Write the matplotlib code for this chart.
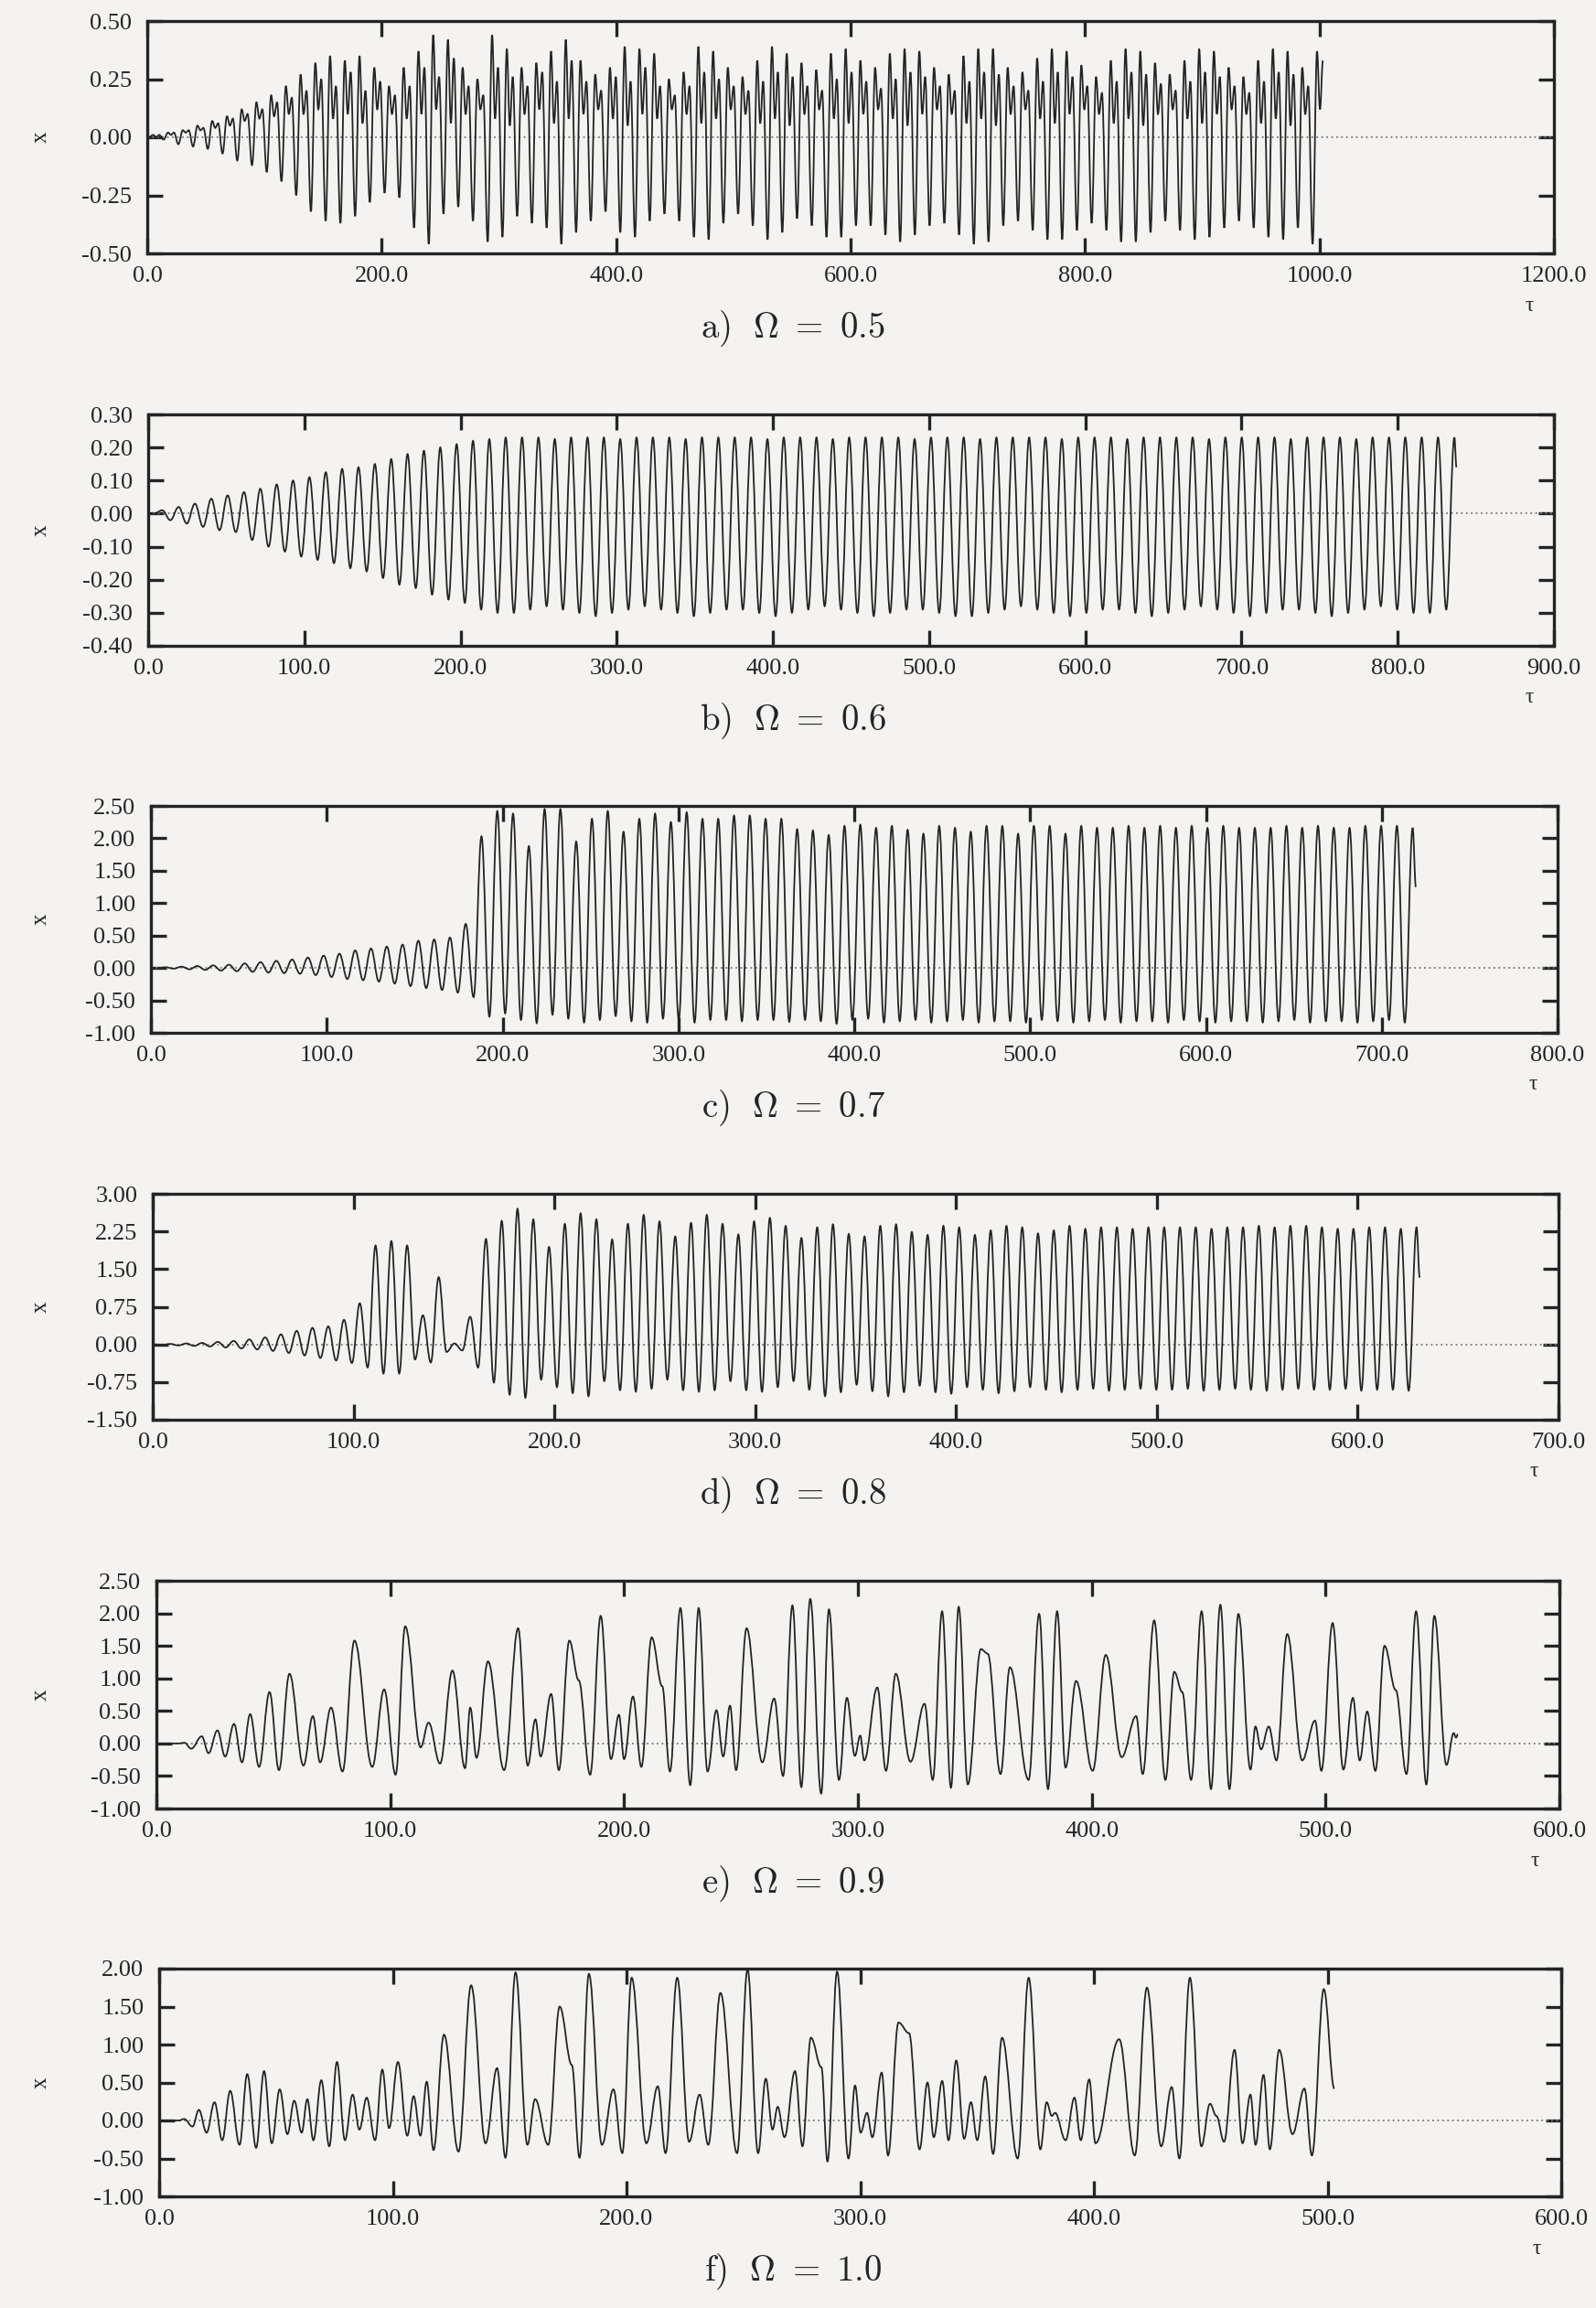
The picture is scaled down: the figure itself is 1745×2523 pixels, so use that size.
import numpy as np
import matplotlib
matplotlib.use("Agg")
import matplotlib.pyplot as plt
from matplotlib.path import Path
from matplotlib.patches import PathPatch
from matplotlib.ticker import FormatStrFormatter, MultipleLocator

plt.rcParams["font.family"] = ["Liberation Serif", "DejaVu Serif"]
plt.rcParams["mathtext.fontset"] = "cm"

# ---------------------------------------------------------------------------
# a) Omega = 0.5 -- per forcing period: trough, main peak, dip, second peak
a_omega = 0.5
a_start = 1.4
a_trough = [0.00, -0.01, -0.03, -0.04, -0.05, -0.07, -0.10, -0.12, -0.15, -0.19,
            -0.25, -0.32, -0.36, -0.37, -0.34, -0.28, -0.24, -0.26, -0.39, -0.46,
            -0.33, -0.30, -0.36, -0.45, -0.43, -0.34, -0.37, -0.39, -0.46, -0.41,
            -0.36, -0.32, -0.41, -0.43, -0.36, -0.33, -0.36, -0.43, -0.44, -0.37,
            -0.33, -0.38, -0.44, -0.41, -0.35, -0.38, -0.43, -0.43, -0.38, -0.38,
            -0.42, -0.45, -0.42, -0.38, -0.37, -0.42, -0.46, -0.45, -0.38, -0.36,
            -0.40, -0.44, -0.44, -0.40, -0.37, -0.40, -0.45, -0.45, -0.41, -0.36,
            -0.40, -0.44, -0.43, -0.39, -0.36, -0.39, -0.43, -0.44, -0.39, -0.46]
a_peak = [0.01, 0.02, 0.03, 0.05, 0.07, 0.09, 0.12, 0.15, 0.18, 0.22,
          0.27, 0.32, 0.35, 0.33, 0.35, 0.30, 0.22, 0.30, 0.37, 0.44,
          0.42, 0.30, 0.25, 0.44, 0.38, 0.30, 0.32, 0.37, 0.42, 0.33,
          0.27, 0.30, 0.39, 0.38, 0.36, 0.25, 0.28, 0.39, 0.37, 0.30,
          0.26, 0.33, 0.39, 0.36, 0.32, 0.29, 0.36, 0.38, 0.33, 0.30,
          0.36, 0.38, 0.37, 0.30, 0.27, 0.35, 0.38, 0.38, 0.30, 0.28,
          0.34, 0.38, 0.37, 0.31, 0.26, 0.33, 0.38, 0.37, 0.32, 0.27,
          0.33, 0.38, 0.37, 0.30, 0.26, 0.33, 0.38, 0.37, 0.30, 0.37]
a_dip = [0.00, 0.01, 0.02, 0.03, 0.04, 0.05, 0.07, 0.08, 0.09, 0.10,
         0.10, 0.12, 0.08, 0.10, 0.06, 0.12, 0.10, 0.08, 0.10, 0.12,
         0.06, 0.10, 0.12, 0.08, 0.05, 0.10, 0.12, 0.06, 0.08, 0.10,
         0.12, 0.08, 0.05, 0.10, 0.08, 0.12, 0.10, 0.06, 0.08, 0.12,
         0.10, 0.06, 0.08, 0.05, 0.10, 0.12, 0.08, 0.06, 0.10, 0.12,
         0.08, 0.05, 0.10, 0.12, 0.10, 0.06, 0.08, 0.05, 0.10, 0.12,
         0.08, 0.06, 0.10, 0.12, 0.10, 0.06, 0.08, 0.05, 0.10, 0.12,
         0.08, 0.06, 0.10, 0.12, 0.10, 0.06, 0.08, 0.05, 0.10, 0.12]
a_peak2 = [0.01, 0.02, 0.03, 0.04, 0.06, 0.08, 0.10, 0.12, 0.15, 0.17,
           0.20, 0.25, 0.22, 0.28, 0.20, 0.24, 0.18, 0.22, 0.30, 0.26,
           0.34, 0.22, 0.18, 0.30, 0.26, 0.22, 0.28, 0.24, 0.33, 0.24,
           0.20, 0.26, 0.24, 0.30, 0.22, 0.18, 0.22, 0.28, 0.25, 0.22,
           0.20, 0.24, 0.28, 0.26, 0.22, 0.20, 0.25, 0.28, 0.24, 0.21,
           0.25, 0.28, 0.26, 0.22, 0.20, 0.24, 0.28, 0.27, 0.22, 0.20,
           0.24, 0.28, 0.26, 0.22, 0.19, 0.24, 0.28, 0.27, 0.23, 0.20,
           0.24, 0.28, 0.26, 0.22, 0.19, 0.24, 0.28, 0.27, 0.22, 0.33]

# b) Omega = 0.6 -- trough, peak per period
b_omega = 0.6
b_start = 3.76
b_trough = [0.00,
            -0.02, -0.03, -0.04, -0.05, -0.056, -0.08, -0.10, -0.115, -0.13, -0.14,
            -0.15, -0.165, -0.175, -0.195, -0.215, -0.225, -0.245, -0.26, -0.27, -0.29,
            -0.30,
            -0.30, -0.29, -0.28, -0.29, -0.30, -0.31, -0.30, -0.29, -0.28, -0.29,
            -0.30, -0.31, -0.30, -0.29, -0.29, -0.30, -0.31, -0.30, -0.29, -0.28,
            -0.29, -0.30, -0.31, -0.30, -0.29, -0.29, -0.30, -0.31, -0.31, -0.30,
            -0.29, -0.28, -0.29, -0.30, -0.31, -0.30, -0.29, -0.29, -0.30, -0.31,
            -0.30, -0.29, -0.28, -0.29, -0.30, -0.31, -0.30, -0.29, -0.29, -0.30,
            -0.31, -0.30, -0.29, -0.28, -0.29, -0.30, -0.30, -0.29]
b_peak = [0.01, 0.02, 0.03, 0.045, 0.055, 0.065, 0.075, 0.088, 0.10, 0.11,
          0.125, 0.135, 0.14, 0.15, 0.165, 0.18, 0.19, 0.20, 0.21, 0.22,
          0.225, 0.23,
          0.23, 0.23, 0.225, 0.23, 0.23, 0.23, 0.225, 0.23, 0.23, 0.23,
          0.225, 0.23, 0.23, 0.23, 0.23, 0.225, 0.23, 0.23, 0.23, 0.225,
          0.23, 0.23, 0.23, 0.23, 0.225, 0.23, 0.23, 0.23, 0.225, 0.23,
          0.23, 0.23, 0.23, 0.225, 0.23, 0.23, 0.23, 0.225, 0.23, 0.23,
          0.23, 0.23, 0.225, 0.23, 0.23, 0.23, 0.23, 0.225, 0.23, 0.23,
          0.23, 0.225, 0.23, 0.23, 0.23, 0.23, 0.23, 0.23]
b_tail = (837.6, 0.14)

# c) Omega = 0.7
c_omega = 0.7
c_start = 4.0
c_trough = [0.00,
            -0.01, -0.02, -0.03, -0.04, -0.05, -0.06, -0.07, -0.08, -0.09, -0.11,
            -0.14, -0.17, -0.19, -0.21, -0.24, -0.28, -0.31, -0.34, -0.38,
            -0.45,
            -0.75, -0.70, -0.80, -0.85, -0.72, -0.78, -0.84, -0.80, -0.74, -0.82,
            -0.84, -0.78, -0.80, -0.84, -0.80, -0.80, -0.82, -0.80, -0.80, -0.83,
            -0.80, -0.82, -0.86, -0.80, -0.78, -0.84, -0.82, -0.80, -0.84, -0.82,
            -0.80, -0.84, -0.82, -0.82, -0.84, -0.80, -0.82, -0.84, -0.82, -0.80,
            -0.84, -0.82, -0.82, -0.84, -0.80, -0.82, -0.84, -0.82, -0.82, -0.84,
            -0.82, -0.80, -0.84, -0.82, -0.82, -0.84, -0.82, -0.80, -0.84]
c_peak = [0.01, 0.02, 0.03, 0.04, 0.05, 0.07, 0.09, 0.11, 0.13, 0.16,
          0.19, 0.22, 0.27, 0.30, 0.33, 0.36, 0.42, 0.44, 0.47, 0.68,
          2.03, 2.42, 2.38, 1.88, 2.45, 2.45, 1.95, 2.30, 2.42, 2.10,
          2.30, 2.38, 2.25, 2.40, 2.30, 2.30, 2.35, 2.35, 2.30, 2.30,
          2.14, 2.12, 2.05, 2.19, 2.21, 2.16, 2.19, 2.13, 2.07, 2.19,
          2.16, 2.10, 2.19, 2.19, 2.07, 2.19, 2.19, 2.07, 2.19, 2.16,
          2.16, 2.19, 2.16, 2.19, 2.16, 2.19, 2.16, 2.19, 2.16, 2.16,
          2.16, 2.19, 2.16, 2.19, 2.16, 2.16, 2.19, 2.19, 2.19, 2.16]
c_tail = (719.4, 1.25)

# d) Omega = 0.8 -- peak first, then trough
d_omega = 0.8
d_start = 1.0
d_peak = [0.00, 0.01, 0.02, 0.03, 0.05, 0.07, 0.10, 0.14, 0.20, 0.27,
          0.33, 0.36, 0.49, 0.82,
          1.97, 2.06, 1.97, 0.58, 1.34, 0.02, 0.55,
          2.10, 2.46, 2.70, 2.49, 1.94, 2.40, 2.61, 2.49, 2.09, 2.40,
          2.58, 2.45, 2.15, 2.42, 2.58, 2.40, 2.19, 2.45, 2.52, 2.36, 2.12,
          2.33, 2.39, 2.20, 2.15, 2.36, 2.39, 2.24, 2.18, 2.36, 2.33,
          2.18, 2.27, 2.36, 2.33, 2.21, 2.27, 2.36, 2.30, 2.33, 2.33,
          2.30, 2.33, 2.33, 2.33, 2.33, 2.30, 2.33, 2.33, 2.36, 2.33,
          2.36, 2.36, 2.33, 2.30, 2.30, 2.33, 2.33, 2.30, 2.33]
d_trough = [-0.01, -0.02, -0.03, -0.04, -0.06, -0.08, -0.10, -0.13, -0.17, -0.22,
            -0.27, -0.32, -0.37, -0.46,
            -0.58, -0.58, -0.30, -0.36, -0.15, -0.12, -0.46,
            -0.76, -1.00, -1.06, -0.70, -0.85, -0.97, -1.03, -0.73, -0.91, -0.94,
            -0.88, -0.70, -0.91, -0.94, -0.91, -0.73, -0.91, -0.94, -0.85, -0.73, -0.90,
            -1.03, -0.95, -0.80, -0.93, -1.03, -0.95, -0.82, -0.95, -0.98, -0.85,
            -0.90, -0.97, -0.93, -0.85, -0.90, -0.95, -0.90, -0.88, -0.92, -0.90,
            -0.88, -0.90, -0.90, -0.88, -0.92, -0.90, -0.88, -0.90, -0.92, -0.90,
            -0.88, -0.90, -0.90, -0.88, -0.92, -0.90, -0.90, -0.92]
d_tail = (630.9, 1.33)

# e) Omega = 0.9 -- turning points (tau, x)
e_points = [
    (0.0, 0.0), (9.4, 0.0), (12.0, 0.01), (14.9, -0.08), (19.4, 0.11), (22.3, -0.15),
    (26.1, 0.20), (29.4, -0.20), (33.2, 0.30), (36.6, -0.29), (40.1, 0.45), (43.9, -0.36),
    (48.4, 0.79), (52.4, -0.41), (56.9, 1.07), (62.9, -0.34), (66.9, 0.42), (70.0, -0.29),
    (74.7, 0.55), (79.6, -0.43), (84.7, 1.58), (92.3, -0.36), (97.4, 0.83), (102.3, -0.48),
    (106.4, 1.80), (113.0, -0.06), (116.4, 0.32), (121.3, -0.31), (126.6, 1.12),
    (132.0, -0.38), (134.2, 0.55), (136.9, -0.22), (141.8, 1.26), (148.7, -0.41),
    (154.7, 1.77), (158.8, -0.34), (162.1, 0.37), (164.3, -0.20), (168.8, 0.76),
    (172.1, -0.41), (176.6, 1.58), (180.6, 0.97), (185.5, -0.48), (190.0, 1.96),
    (194.4, -0.24), (197.8, 0.44), (200.0, -0.24), (203.8, 0.72), (207.4, -0.36),
    (211.8, 1.63), (216.3, 0.88), (219.6, -0.43), (224.1, 2.08), (228.3, -0.64),
    (231.9, 2.08), (235.7, -0.43), (239.5, 0.51), (242.4, -0.20), (245.3, 0.58),
    (247.9, -0.41), (252.4, 1.77), (259.1, -0.29), (264.2, 0.69), (268.0, -0.50),
    (272.0, 2.12), (275.8, -0.67), (279.6, 2.22), (284.3, -0.77), (287.6, 2.06),
    (291.9, -0.56), (295.3, 0.70), (298.7, -0.19), (301.0, 0.12), (302.7, -0.26),
    (308.3, 0.86), (312.0, -0.42), (316.2, 1.07), (322.5, -0.28), (328.5, 0.61),
    (332.0, -0.56), (336.0, 2.03), (339.8, -0.68), (343.1, 2.10), (347.0, -0.63),
    (352.6, 1.45), (355.5, 1.38), (361.0, -0.47), (365.0, 1.17), (373.0, -0.56),
    (377.5, 1.99), (381.3, -0.70), (385.2, 2.03), (388.8, -0.37), (393.3, 0.96),
    (400.4, -0.42), (406.0, 1.36), (412.8, -0.21), (419.0, 0.42), (421.8, -0.47),
    (426.7, 1.89), (431.5, -0.56), (435.3, 1.10), (438.7, 0.79), (442.5, -0.56),
    (447.0, 2.03), (451.0, -0.70), (455.0, 2.13), (458.9, -0.70), (462.7, 1.99),
    (467.9, -0.40), (470.0, 0.26), (472.4, -0.09), (475.7, 0.26), (479.0, -0.26),
    (483.6, 1.68), (490.0, -0.26), (495.5, 0.35), (498.2, -0.42), (503.0, 1.85),
    (507.6, -0.40), (511.7, 0.70), (514.6, -0.26), (517.8, 0.49), (521.3, -0.42),
    (525.2, 1.50), (530.0, 0.82), (534.6, -0.47), (538.7, 2.03), (543.1, -0.63),
    (546.5, 1.96), (551.7, -0.33), (554.8, 0.16), (555.8, 0.09), (556.6, 0.14),
]

# f) Omega = 1.0 -- turning points (tau, x)
f_points = [
    (0.0, 0.0), (8.5, 0.0), (10.7, 0.02), (14.3, -0.08), (17.0, 0.14), (20.3, -0.16),
    (23.7, 0.24), (27.0, -0.26), (30.4, 0.39), (34.4, -0.32), (37.7, 0.61), (41.5, -0.36),
    (44.9, 0.65), (48.2, -0.30), (51.6, 0.41), (54.9, -0.18), (57.8, 0.26), (61.0, -0.16),
    (63.4, 0.28), (66.0, -0.26), (69.4, 0.53), (72.8, -0.34), (76.1, 0.77), (79.5, -0.26),
    (82.8, 0.34), (85.7, -0.12), (88.8, 0.30), (92.4, -0.26), (95.5, 0.67), (98.4, -0.10),
    (102.2, 0.77), (106.2, -0.20), (108.9, 0.32), (111.8, -0.20), (114.5, 0.51),
    (117.4, -0.39), (121.9, 1.13), (128.1, -0.41), (133.5, 1.78), (139.7, -0.30),
    (144.6, 0.69), (148.2, -0.49), (152.5, 1.95), (157.6, -0.32), (160.9, 0.28),
    (166.5, -0.32), (171.4, 1.50), (176.6, 0.73), (179.9, -0.49), (183.9, 1.93),
    (189.5, -0.32), (194.4, 0.41), (198.2, -0.43), (202.2, 1.88), (208.5, -0.30),
    (213.4, 0.45), (216.7, -0.43), (221.7, 1.88), (226.8, -0.28), (231.3, 0.34),
    (235.0, -0.32), (240.2, 1.68), (247.3, -0.43), (251.8, 1.99), (256.3, -0.43),
    (259.6, 0.55), (262.5, -0.12), (264.7, 0.18), (267.6, -0.22), (272.1, 0.65),
    (275.3, -0.34), (278.9, 1.09), (283.4, 0.70), (286.0, -0.54), (290.1, 1.96),
    (295.0, -0.50), (297.8, 0.46), (300.2, -0.16), (302.9, 0.10), (305.2, -0.22),
    (309.2, 0.63), (311.9, -0.46), (316.4, 1.29), (320.9, 1.15), (325.4, -0.38),
    (328.8, 0.50), (331.5, -0.22), (335.1, 0.52), (337.8, -0.26), (341.1, 0.79),
    (344.5, -0.24), (347.4, 0.24), (350.1, -0.26), (353.5, 0.58), (356.9, -0.44),
    (360.7, 1.09), (367.4, -0.50), (372.1, 1.88), (377.1, -0.38), (379.8, 0.24),
    (382.0, 0.06), (383.4, 0.10), (387.9, -0.26), (391.7, 0.30), (394.4, -0.26),
    (398.0, 0.54), (400.7, -0.30), (410.8, 1.07), (417.5, -0.46), (422.7, 1.75),
    (428.8, -0.34), (433.3, 0.44), (436.6, -0.50), (441.1, 1.88), (446.0, -0.34),
    (449.7, 0.22), (452.4, 0.06), (455.7, -0.28), (460.2, 0.93), (463.6, -0.30),
    (467.0, 0.34), (469.2, -0.32), (472.6, 0.60), (475.3, -0.38), (479.3, 0.93),
    (485.0, -0.18), (490.1, 0.42), (493.3, -0.46), (498.4, 1.73), (502.9, 0.42),
]

# axis ranges, tick steps and captions
x_max = [1200, 900, 800, 700, 600, 600]
x_step = [200, 100, 100, 100, 100, 100]
y_lim = [(-0.5, 0.5), (-0.4, 0.3), (-1.0, 2.5), (-1.5, 3.0), (-1.0, 2.5), (-1.0, 2.0)]
y_step = [0.25, 0.10, 0.50, 0.75, 0.50, 0.50]
captions = ["a)", "b)", "c)", "d)", "e)", "f)"]
omegas = ["0.5", "0.6", "0.7", "0.8", "0.9", "1.0"]


def periodic(start, omega, groups, offsets, tail=None):
    """Lay the turning points of each forcing period out along tau."""
    period = 2 * np.pi / omega
    ts, xs = [], []
    for k in range(max(len(g) for g in groups)):
        for g, off in zip(groups, offsets):
            if k < len(g):
                ts.append(start + period * (k + off))
                xs.append(g[k])
    if tail is not None:
        ts.append(tail[0])
        xs.append(tail[1])
    return ts, xs


def smooth(ts, xs, k=0.38):
    # cubic segments with flat tangents at every turning point
    verts = [(ts[0], xs[0])]
    codes = [Path.MOVETO]
    for i in range(1, len(ts)):
        h = (ts[i] - ts[i - 1]) * k
        verts += [(ts[i - 1] + h, xs[i - 1]), (ts[i] - h, xs[i]), (ts[i], xs[i])]
        codes += [Path.CURVE4] * 3
    return Path(verts, codes)


series = [
    periodic(a_start, a_omega, [a_trough, a_peak, a_dip, a_peak2], [0, 0.3, 0.5, 0.7]),
    periodic(b_start, b_omega, [b_trough, b_peak], [0, 0.5], b_tail),
    periodic(c_start, c_omega, [c_trough, c_peak], [0, 0.5], c_tail),
    periodic(d_start, d_omega, [d_peak, d_trough], [0, 0.5], d_tail),
    tuple(map(list, zip(*e_points))),
    tuple(map(list, zip(*f_points))),
]

W, H = 1745, 2523
bg = "#f4f3f1"
ink = "#242424"
fig = plt.figure(figsize=(W / 100, H / 100), dpi=100, facecolor=bg)

# frame boxes in pixels: left, right, top, bottom
boxes = [(161, 1699, 23, 277), (162, 1699, 453, 706), (165, 1703, 881, 1129),
         (167, 1704, 1305, 1552), (171, 1705, 1728, 1977), (174, 1707, 2152, 2401)]

for i, (l, r, t, b) in enumerate(boxes):
    ax = fig.add_axes([l / W, 1 - b / H, (r - l) / W, (b - t) / H])
    ax.set_facecolor(bg)
    ts, xs = series[i]
    ax.add_patch(PathPatch(smooth(ts, xs), fill=False, edgecolor=ink, lw=1.3, zorder=3))
    ax.axhline(0, ls=(0, (1, 2)), color="#777777", lw=1.3, zorder=2)
    ax.set_xlim(0, x_max[i])
    ax.set_ylim(*y_lim[i])
    ax.xaxis.set_major_locator(MultipleLocator(x_step[i]))
    ax.yaxis.set_major_locator(MultipleLocator(y_step[i]))
    ax.xaxis.set_major_formatter(FormatStrFormatter("%.1f"))
    ax.yaxis.set_major_formatter(FormatStrFormatter("%.2f"))
    ax.tick_params(direction="in", length=12, width=2.4, top=True, right=True,
                   labelsize=19, labelcolor=ink, color=ink)
    ax.tick_params(axis="x", pad=10)
    ax.tick_params(axis="y", pad=12)
    for s in ax.spines.values():
        s.set_linewidth(2.4)
        s.set_color(ink)

    fig.text(45 / W, 1 - (t + b) / 2 / H, "x", fontsize=18, color=ink,
             ha="center", va="center", rotation=90)
    fig.text((r - 27) / W, 1 - (b + 57) / H, "τ", fontsize=17, color=ink,
             ha="center", va="center")
    fig.text(0.497, 1 - (b + 82) / H,
             r"$\mathrm{" + captions[i] + r"}\ \ \Omega\ =\ " + omegas[i] + "$",
             fontsize=28, color=ink, ha="center", va="center")

fig.savefig("out.png", dpi=100, facecolor=bg)
